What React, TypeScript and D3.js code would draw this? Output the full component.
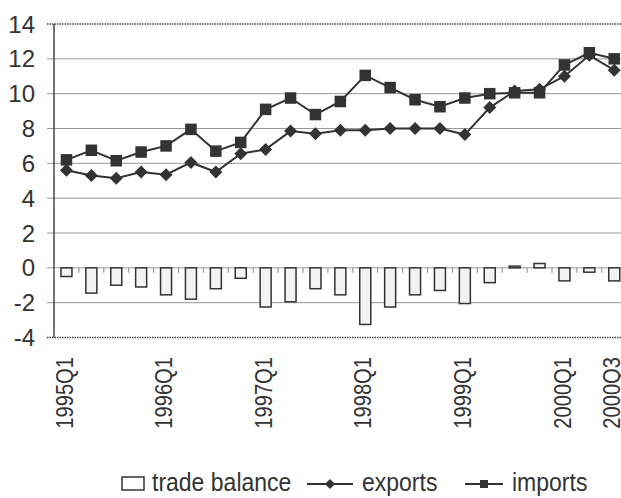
import React from "react";
import * as d3 from "d3";

const quarters = [
  "1995Q1","1995Q2","1995Q3","1995Q4",
  "1996Q1","1996Q2","1996Q3","1996Q4",
  "1997Q1","1997Q2","1997Q3","1997Q4",
  "1998Q1","1998Q2","1998Q3","1998Q4",
  "1999Q1","1999Q2","1999Q3","1999Q4",
  "2000Q1","2000Q2","2000Q3",
];
const exportsVals = [5.6,5.3,5.15,5.5,5.35,6.05,5.5,6.55,6.8,7.85,7.7,7.9,7.9,8.0,8.0,8.0,7.65,9.2,10.15,10.25,11.0,12.2,11.35];
const importsVals = [6.2,6.75,6.15,6.65,7.0,7.95,6.7,7.2,9.1,9.75,8.8,9.55,11.05,10.35,9.65,9.25,9.75,10.0,10.05,10.05,11.65,12.35,12.0];
const tradeBalance = [-0.5,-1.45,-1.0,-1.1,-1.55,-1.8,-1.2,-0.6,-2.25,-1.95,-1.2,-1.55,-3.25,-2.25,-1.55,-1.3,-2.05,-0.85,0.1,0.25,-0.75,-0.25,-0.75];
const yTicks = [-4,-2,0,2,4,6,8,10,12,14];
const labelQuarters = ["1995Q1","1996Q1","1997Q1","1998Q1","1999Q1","2000Q1","2000Q3"];

const W = 621, H = 498;
const left = 54, top = 24, bottom = 337.5;
const step = 24.9;
const ink = "#333";
const font = "Arial, 'Liberation Sans', sans-serif";

export default function App() {
  const x = d3.scaleBand<string>().domain(quarters).range([left, left + step * quarters.length]).paddingInner(0).paddingOuter(0);
  const y = d3.scaleLinear().domain([-4, 14]).range([bottom, top]);
  const cx = (q: string) => (x(q) as number) + x.bandwidth() / 2;
  const right = left + step * quarters.length;
  const line = d3.line<number>().x((_, i) => cx(quarters[i])).y(v => y(v));
  const barW = 11;
  const diamond = (px: number, py: number, r = 6.5) => `M${px},${py - r}L${px + r},${py}L${px},${py + r}L${px - r},${py}Z`;
  const sq = 11.5;

  return (
    <svg width={W} height={H} style={{ position: "absolute", left: 0, top: 0, background: "#fff" }}>
      {/* grid */}
      {yTicks.map(t => (
        <line key={t} x1={left - 7} x2={right} y1={y(t)} y2={y(t)}
          stroke={t === 14 || t === -4 ? "#444" : "#999"} strokeWidth={t === 14 || t === -4 ? 1.5 : 1}
          strokeDasharray={t === 14 || t === -4 ? "1.5,1" : undefined} />
      ))}
      {/* left axis */}
      <line x1={left} x2={left} y1={top} y2={bottom} stroke="#444" strokeWidth={1.5} />
      {yTicks.map(t => (
        <text key={"l" + t} x={35} y={y(t)} dy="0.36em" textAnchor="end" fontFamily={font} fontSize={24} fill={ink}>{t}</text>
      ))}
      {/* category ticks on zero line */}
      {quarters.map(q => (
        <line key={"ct" + q} x1={(x(q) as number)} x2={(x(q) as number)} y1={y(0)} y2={y(0) + 5} stroke="#888" strokeWidth={1} />
      ))}
      {/* bars */}
      {tradeBalance.map((v, i) => (
        <rect key={"b" + i} x={cx(quarters[i]) - barW / 2} y={Math.min(y(v), y(0))} width={barW}
          height={Math.abs(y(v) - y(0))} fill="#f3f3f3" stroke={ink} strokeWidth={1.5} />
      ))}
      {/* lines */}
      <path d={line(importsVals) || ""} fill="none" stroke={ink} strokeWidth={2} />
      <path d={line(exportsVals) || ""} fill="none" stroke={ink} strokeWidth={2} />
      {importsVals.map((v, i) => (
        <rect key={"s" + i} x={cx(quarters[i]) - sq / 2} y={y(v) - sq / 2} width={sq} height={sq} fill={ink} />
      ))}
      {exportsVals.map((v, i) => (
        <path key={"d" + i} d={diamond(cx(quarters[i]), y(v))} fill={ink} />
      ))}
      {/* x labels */}
      {labelQuarters.map(q => (
        <text key={"x" + q} transform={`translate(${cx(q) - 2.5},${357}) rotate(-90) scale(0.84,1)`} dy="0.36em" textAnchor="end"
          fontFamily={font} fontSize={24} fill={ink}>{q}</text>
      ))}
      {/* legend */}
      <rect x={122} y={477} width={22} height={13} fill="#fff" stroke={ink} strokeWidth={1.5} />
      <text transform="translate(152,491) scale(0.92,1)" fontFamily={font} fontSize={25} fill={ink}>trade balance</text>
      <line x1={307} x2={353} y1={484} y2={484} stroke={ink} strokeWidth={2} />
      <path d={diamond(330, 484, 5)} fill={ink} />
      <text transform="translate(362,491) scale(0.92,1)" fontFamily={font} fontSize={25} fill={ink}>exports</text>
      <line x1={465} x2={503} y1={484} y2={484} stroke={ink} strokeWidth={2} />
      <rect x={480} y={480} width={8} height={8} fill={ink} />
      <text transform="translate(512,491) scale(0.92,1)" fontFamily={font} fontSize={25} fill={ink}>imports</text>
    </svg>
  );
}
